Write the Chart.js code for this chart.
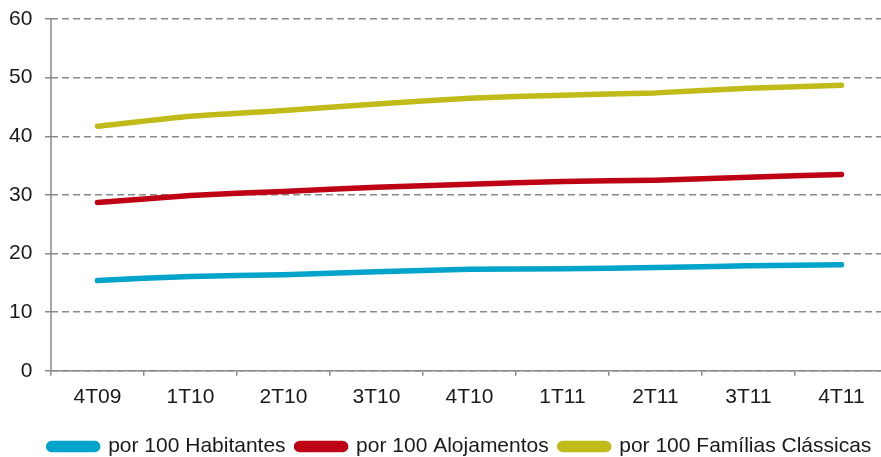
<!DOCTYPE html>
<html>
<head>
<meta charset="utf-8">
<script src="https://cdn.jsdelivr.net/npm/chart.js@4.4.1/dist/chart.umd.min.js"></script>
<style>
  html, body { margin: 0; padding: 0; background: #ffffff; overflow: hidden; }
  #wrap { width: 881px; height: 457px; overflow: hidden; }
  #c { display: block; }
</style>
</head>
<body>
<div id="wrap"><canvas id="c" width="920" height="457"></canvas></div>
<script>
// Quarters shown on the horizontal axis
const quarters = ['4T09', '1T10', '2T10', '3T10', '4T10', '1T11', '2T11', '3T11', '4T11'];

// Values per quarter for each ratio
const porHabitantes = [15.4, 16.1, 16.4, 16.9, 17.3, 17.4, 17.6, 17.9, 18.1];
const porAlojamentos = [28.7, 29.9, 30.6, 31.3, 31.8, 32.3, 32.5, 33.0, 33.5];
const porFamilias = [41.7, 43.4, 44.4, 45.5, 46.5, 47.0, 47.4, 48.2, 48.7];

// Series names
const seriesNames = ['por 100 Habitantes', 'por 100 Alojamentos', 'por 100 Famílias Clássicas'];

// Value axis ticks
const yTicks = [0, 10, 20, 30, 40, 50, 60];

const colors = ['#00a3c9', '#be0015', '#c0bb19'];
const axisGrey = '#8a8a8a';
const font = "'Liberation Sans', Arial, sans-serif";

function lineSet(label, data, color) {
  return {
    label: label,
    data: data,
    borderColor: color,
    backgroundColor: color,
    borderWidth: 5.5,
    borderCapStyle: 'round',
    borderJoinStyle: 'round',
    pointRadius: 0,
    pointHoverRadius: 0,
    tension: 0.2,
    fill: false
  };
}

// Solid vertical axis line on the left edge of the plot (grid lines stay dashed)
const solidValueAxis = {
  id: 'solidValueAxis',
  beforeDatasetsDraw(chart) {
    const { ctx, chartArea } = chart;
    ctx.save();
    ctx.strokeStyle = axisGrey;
    ctx.lineWidth = 1.5;
    ctx.setLineDash([]);
    ctx.beginPath();
    ctx.moveTo(chartArea.left, chartArea.top);
    ctx.lineTo(chartArea.left, chartArea.bottom);
    ctx.stroke();
    ctx.restore();
  }
};

new Chart(document.getElementById('c'), {
  type: 'line',
  data: {
    labels: quarters,
    datasets: [
      lineSet(seriesNames[0], porHabitantes, colors[0]),
      lineSet(seriesNames[1], porAlojamentos, colors[1]),
      lineSet(seriesNames[2], porFamilias, colors[2])
    ]
  },
  plugins: [solidValueAxis],
  options: {
    responsive: false,
    animation: false,
    devicePixelRatio: 1,
    layout: { padding: { top: 19, right: 32, left: 32, bottom: -10 } },
    plugins: {
      tooltip: { enabled: false },
      legend: {
        position: 'bottom',
        labels: {
          font: { family: font, size: 21 },
          color: '#1a1a1a',
          boxWidth: 49,
          boxHeight: 6,
          useBorderRadius: true,
          borderRadius: 3,
          padding: 11
        }
      }
    },
    scales: {
      x: {
        type: 'category',
        offset: true,
        grid: {
          offset: true,
          drawOnChartArea: false,
          drawTicks: true,
          tickLength: 5,
          color: axisGrey,
          lineWidth: 1.5
        },
        border: { display: true, color: axisGrey, width: 1.5 },
        ticks: {
          font: { family: font, size: 21 },
          color: '#1a1a1a',
          padding: 9,
          maxRotation: 0,
          autoSkip: false
        },
        afterFit: function (scale) { scale.height += 6; }
      },
      y: {
        min: 0,
        max: 60,
        afterBuildTicks: function (scale) {
          scale.ticks = yTicks.map(v => ({ value: v }));
        },
        grid: {
          color: axisGrey,
          lineWidth: 1.5,
          drawTicks: true,
          tickLength: 6,
          tickColor: axisGrey,
          tickBorderDash: []
        },
        border: { display: false, dash: [7, 4] },
        ticks: {
          font: { family: font, size: 21 },
          color: '#1a1a1a',
          // labels sit left of the narrow axis box, right-aligned
          mirror: true,
          crossAlign: 'far',
          padding: -42
        },
        afterFit: function (scale) { scale.width = 19; }
      }
    }
  }
});
</script>
</body>
</html>
